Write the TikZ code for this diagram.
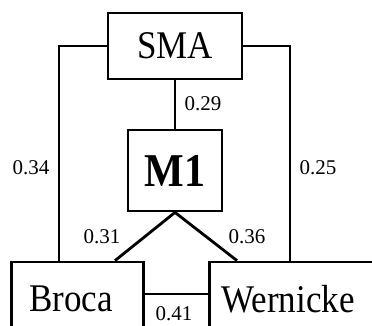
\documentclass[tikz,border=0pt]{standalone}
\usepackage{fontspec}
\setmainfont{Liberation Serif}
\newcommand{\tallt}[1]{\scalebox{1}[1.12]{#1}}
\begin{document}
\begin{tikzpicture}[x=1pt,y=-1pt,
  box/.style={draw,line width=2.8pt,font=\fontsize{35}{40}\selectfont,inner sep=0pt},
  wlabel/.style={font=\fontsize{21}{23}\selectfont,inner sep=0pt},
  conn/.style={line width=2.8pt}]
\useasboundingbox (0,0) rectangle (372,325);
\clip (0,0) rectangle (372,325);
\node[box,minimum width=134pt,minimum height=66pt] (sma) at (175,46) {\tallt{SMA}};
\node[box,minimum width=94pt,minimum height=81pt,font=\fontsize{42}{46}\selectfont\bfseries] (m1) at (175,170.5) {\tallt{M1}};
\node[box,anchor=west,minimum height=74pt,align=left,text width=96pt,inner xsep=18pt] (bro) at (10,299) {\tallt{Broca}};
\node[box,anchor=west,minimum height=74pt,align=left,text width=151pt,inner xsep=12pt] (wer) at (208,299) {\tallt{Wernicke}};
\draw[conn] (sma.west) -| ([xshift=49pt]bro.north west);
\draw[conn] (sma.east) -| ([xshift=82pt]wer.north west);
\draw[conn] (sma) -- (m1);
\draw[conn] (m1.south) -- ([xshift=105pt]bro.north west);
\draw[conn] (m1.south) -- ([xshift=29pt]wer.north west);
\draw[conn] ([yshift=5pt]bro.east) -- ([yshift=5pt]wer.west);
\node[wlabel] (l29) at (203,104) {0.29};
\node[wlabel] (l34) at (31,168) {0.34};
\node[wlabel] (l25) at (318,168) {0.25};
\node[wlabel] (l31) at (102,237) {0.31};
\node[wlabel] (l36) at (247,237) {0.36};
\node[wlabel] (l41) at (174,314) {0.41};
\end{tikzpicture}
\end{document}
